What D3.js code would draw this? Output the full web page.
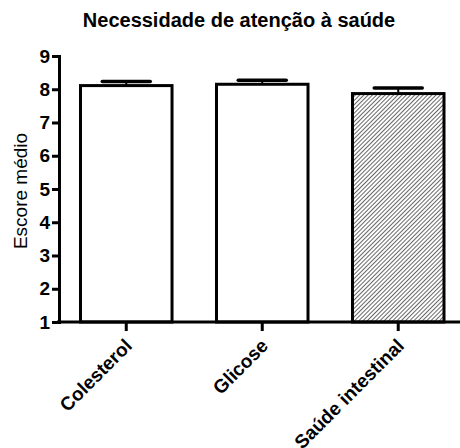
<!DOCTYPE html>
<html>
<head>
<meta charset="utf-8">
<script src="https://cdn.jsdelivr.net/npm/d3@7"></script>
<style>
  body { margin: 0; background: #fff; }
  svg { display: block; }
</style>
</head>
<body>
<svg id="chart" width="460" height="448"></svg>
<script>
const categories = ["Colesterol", "Glicose", "Saúde intestinal"];
const means = [8.11, 8.15, 7.87];
const errors = [0.12, 0.12, 0.17];
const yTicks = [1, 2, 3, 4, 5, 6, 7, 8, 9];

const margin = { top: 56, bottom: 126, left: 59, right: 0 };
const W = 460, H = 448;
const font = "Liberation Sans, Arial, sans-serif";

const svg = d3.select("#chart");

// hatch for the last bar
const defs = svg.append("defs");
defs.append("pattern")
    .attr("id", "hatch")
    .attr("patternUnits", "userSpaceOnUse")
    .attr("width", 3).attr("height", 3)
    .attr("patternTransform", "rotate(45)")
  .append("line")
    .attr("x1", 0).attr("y1", 0).attr("x2", 0).attr("y2", 3)
    .attr("stroke", "#000").attr("stroke-width", 1.2);

const x = d3.scaleBand()
    .domain(categories)
    .range([53.3, 471.2])
    .paddingInner(0.327)
    .paddingOuter(0.2);

const y = d3.scaleLinear()
    .domain([1, 9])
    .range([H - margin.bottom, margin.top]);

const fills = ["#fff", "#fff", "url(#hatch)"];

// bars
svg.selectAll("rect.bar")
    .data(categories)
  .enter().append("rect")
    .attr("class", "bar")
    .attr("x", d => x(d))
    .attr("width", x.bandwidth())
    .attr("y", (d, i) => y(means[i]))
    .attr("height", (d, i) => y(1) - y(means[i]))
    .attr("fill", (d, i) => fills[i])
    .attr("stroke", "#000")
    .attr("stroke-width", 3);

// error bars (upper only)
const err = svg.selectAll("g.err")
    .data(categories)
  .enter().append("g").attr("class", "err");
err.append("line")
    .attr("x1", d => x(d) + x.bandwidth() / 2)
    .attr("x2", d => x(d) + x.bandwidth() / 2)
    .attr("y1", (d, i) => y(means[i]))
    .attr("y2", (d, i) => y(means[i] + errors[i]))
    .attr("stroke", "#000").attr("stroke-width", 2);
err.append("line")
    .attr("x1", d => x(d) + x.bandwidth() / 2 - 24)
    .attr("x2", d => x(d) + x.bandwidth() / 2 + 24)
    .attr("y1", (d, i) => y(means[i] + errors[i]))
    .attr("y2", (d, i) => y(means[i] + errors[i]))
    .attr("stroke", "#000").attr("stroke-width", 3.5)
    .attr("stroke-linecap", "round");

// y axis
const yAxis = svg.append("g")
    .attr("transform", `translate(${margin.left},0)`)
    .call(d3.axisLeft(y).tickValues(yTicks).tickFormat(d3.format("d")).tickSizeOuter(0).tickSize(7).tickPadding(2));
yAxis.select(".domain").attr("stroke-width", 3);
yAxis.selectAll(".tick line").attr("stroke-width", 3);
yAxis.selectAll("text")
    .attr("font-family", font)
    .attr("font-size", 19).attr("font-weight", "bold").attr("fill", "#000");

// x axis
const xAxis = svg.append("g")
    .attr("transform", `translate(0,${y(1)})`)
    .call(d3.axisBottom(x).tickSizeOuter(0).tickSize(9).tickPadding(4));
xAxis.select(".domain").attr("d", `M${margin.left - 2},0H${W}`).attr("stroke-width", 3);
xAxis.selectAll(".tick line").attr("stroke-width", 3);
xAxis.selectAll("text")
    .attr("font-family", font)
    .attr("font-size", 19).attr("font-weight", "bold").attr("fill", "#000")
    .attr("text-anchor", "end")
    .attr("x", 0).attr("y", 0).attr("dy", 0)
    .attr("transform", "translate(7,25) rotate(-45)");

// y label
svg.append("text")
    .attr("transform", "translate(27,191) rotate(-90)")
    .attr("text-anchor", "middle")
    .attr("font-family", font)
    .attr("font-size", 19)
    .text("Escore médio");

// title
svg.append("text")
    .attr("x", 239).attr("y", 27)
    .attr("text-anchor", "middle")
    .attr("font-family", font)
    .attr("font-size", 20).attr("font-weight", "bold")
    .text("Necessidade de atenção à saúde");
</script>
</body>
</html>
